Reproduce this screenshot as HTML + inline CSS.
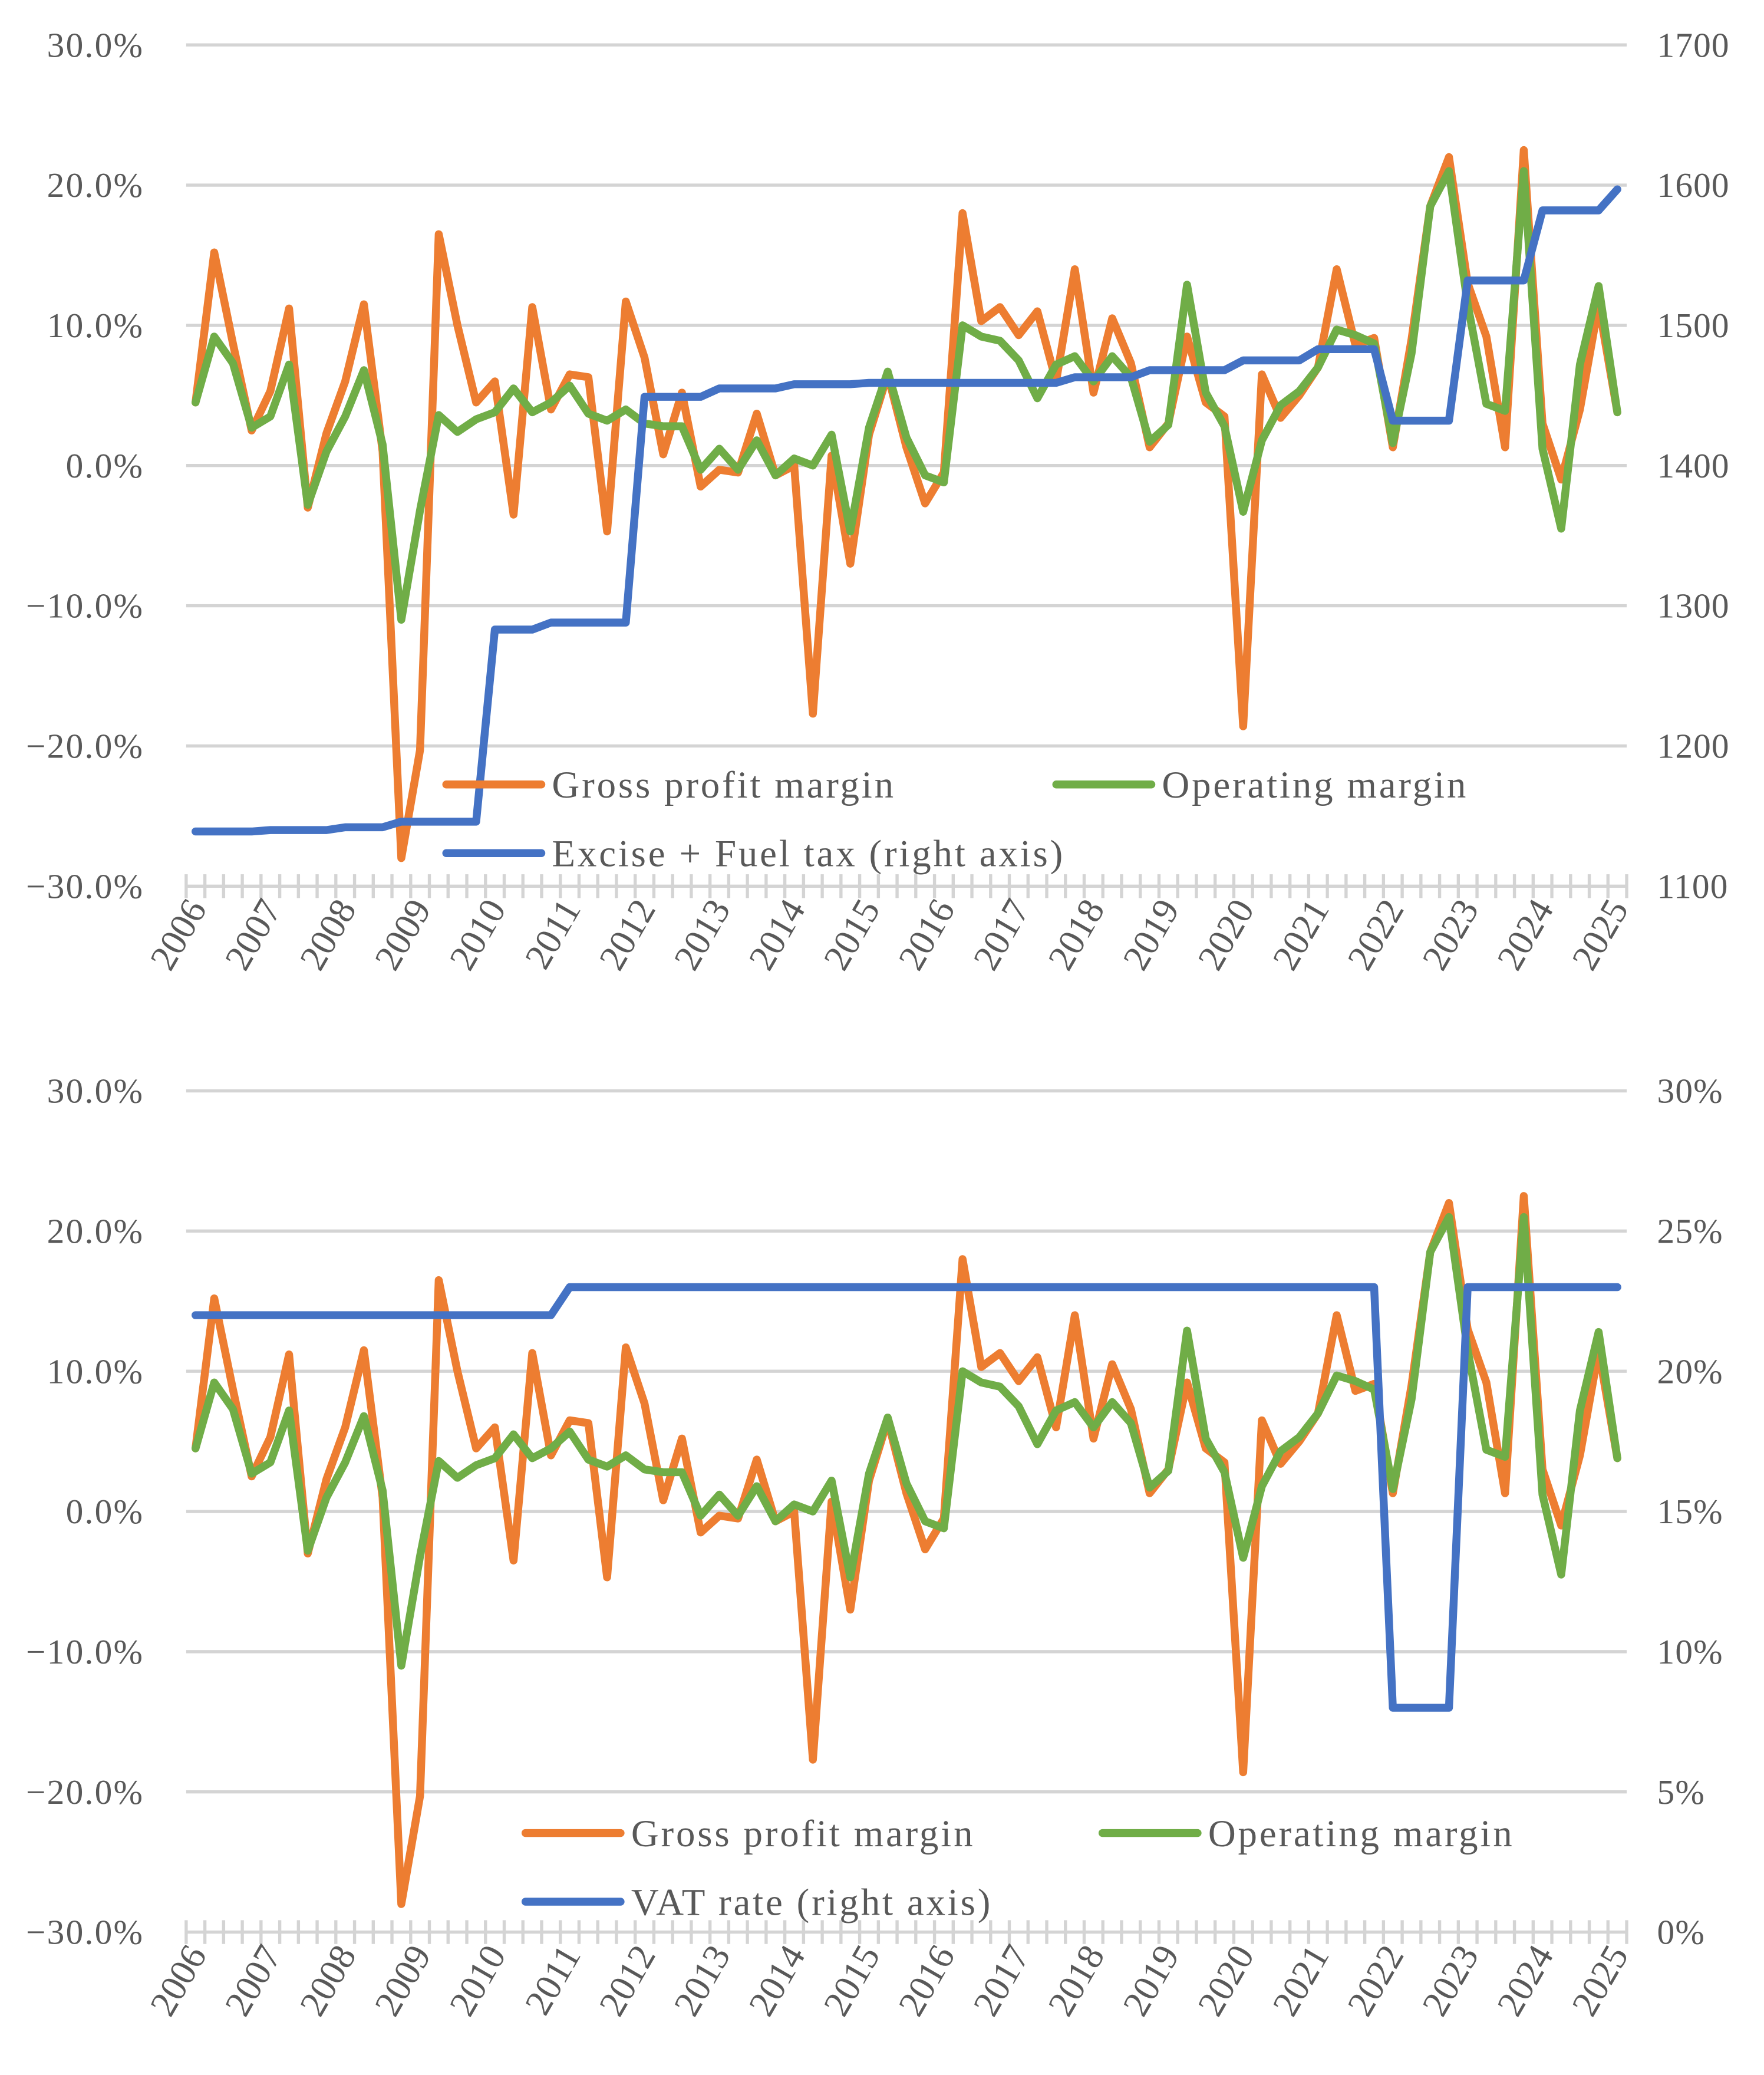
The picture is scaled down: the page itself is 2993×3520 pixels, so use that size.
<!DOCTYPE html>
<html><head><meta charset="utf-8"><style>
html,body{margin:0;padding:0;background:#fff;}
svg{display:block;}
text{font-family:"Liberation Serif",serif;fill:#595959;}
</style></head>
<body>
<svg id="s" width="2993" height="3520" viewBox="0 0 1336 1571.2" xmlns="http://www.w3.org/2000/svg"></svg>
<script>
const years=["2006","2007","2008","2009","2010","2011","2012","2013","2014","2015","2016","2017","2018","2019","2020","2021","2022","2023","2024","2025"];
const gross=[4.5,15.2,8.7,2.5,5.3,11.2,-3,2.3,6,11.5,1,-28,-20.3,16.5,10,4.5,6,-3.5,11.3,4,6.5,6.3,-4.7,11.7,7.7,0.8,5.2,-1.5,-0.3,-0.5,3.7,-0.7,0,-17.7,0.7,-7,2.2,6.5,1.3,-2.7,-0.5,18,10.3,11.3,9.3,11,6,14,5.2,10.5,7.3,1.3,3,9.2,4.5,3.5,-18.6,6.5,3.4,5,7,14,8.6,9.1,1.3,9,18.5,22,13,9.2,1.3,22.5,3,-1,4,11.5,3.8];
const oper=[4.5,9.2,7.3,2.7,3.5,7.2,-2.8,1,3.5,6.8,1.5,-11,-3.2,3.6,2.4,3.3,3.8,5.5,3.8,4.5,5.7,3.7,3.2,4,3,2.8,2.8,-0.3,1.2,-0.3,1.8,-0.7,0.5,0,2.2,-4.7,2.7,6.7,2,-0.7,-1.2,10,9.2,8.9,7.5,4.8,7.2,7.8,6,7.8,6.3,1.7,2.9,12.9,5.2,2.8,-3.3,1.8,4.3,5.3,7,9.7,9.3,8.7,1.6,8,18.5,21,11.5,4.4,3.9,21,1.2,-4.5,7.2,12.8,3.8];
const excise=[1139,1139,1139,1139,1140,1140,1140,1140,1142,1142,1142,1146,1146,1146,1146,1146,1283,1283,1283,1288,1288,1288,1288,1288,1449,1449,1449,1449,1455,1455,1455,1455,1458,1458,1458,1458,1459,1459,1459,1459,1459,1459,1459,1459,1459,1459,1459,1463,1463,1463,1463,1468,1468,1468,1468,1468,1475,1475,1475,1475,1483,1483,1483,1483,1432,1432,1432,1432,1532,1532,1532,1532,1582,1582,1582,1582,1597];
const vat=[22,22,22,22,22,22,22,22,22,22,22,22,22,22,22,22,22,22,22,22,23,23,23,23,23,23,23,23,23,23,23,23,23,23,23,23,23,23,23,23,23,23,23,23,23,23,23,23,23,23,23,23,23,23,23,23,23,23,23,23,23,23,23,23,8,8,8,8,23,23,23,23,23,23,23,23,23];
const leftTicks=["30.0%","20.0%","10.0%","0.0%","−10.0%","−20.0%","−30.0%"];
const rightTicks1=["1700","1600","1500","1400","1300","1200","1100"];
const rightTicks2=["30%","25%","20%","15%","10%","5%","0%"];

const svg=document.getElementById('s');
const NS="http://www.w3.org/2000/svg";
function mk(tag,attrs,parent){const e=document.createElementNS(NS,tag);for(const k in attrs)e.setAttribute(k,attrs[k]);(parent||svg).appendChild(e);return e;}
const X0=141,X1=1232,N=gross.length;
const step=(X1-X0)/N;
function xs(i){return X0+step*(i+0.5);}

function chart(top,rightTicks,rMin,rMax,rSeries,rName,legendX,legendY,legendRightX,idx){
  const bottom=top+637;
  const g=mk('g',{});
  
  
  const yl=v=>bottom-(v+30)/60*(bottom-top);
  const yr=v=>bottom-(v-rMin)/(rMax-rMin)*(bottom-top);
  for(let k=0;k<7;k++){
    const y=top+k*(bottom-top)/6;
    const l=mk('line',{x1:X0,x2:X1,y1:y,y2:y,stroke:'#d4d4d4','stroke-width':2.4},g);
    
    
    const t=mk('text',{x:109,y:y+9,'text-anchor':'end','font-size':26.5,'letter-spacing':1},g);t.textContent=leftTicks[k];
    
    
    const t2=mk('text',{x:1255,y:y+9,'font-size':26.5,'letter-spacing':0.5},g);t2.textContent=rightTicks[k];
    
    
  }
  for(let i=0;i<=N;i++){
    const x=X0+step*i;
    const tk=mk('line',{x1:x,x2:x,y1:bottom-9,y2:bottom+9,stroke:'#d4d4d4','stroke-width':2.4},g);
    
    
  }
  years.forEach((yr_,j)=>{
    const x=xs(j*4)+9, y=bottom+17;
    const t=mk('text',{x:x,y:y,'text-anchor':'end','font-size':28,transform:`rotate(-60 ${x} ${y})`},g);
    t.textContent=yr_;
    
    
  });
  function line(vals,f,color,name){
    const p=vals.map((v,i)=>(i?'L':'M')+xs(i).toFixed(2)+','+f(v).toFixed(2)).join('');
    const e=mk('path',{d:p,fill:'none',stroke:color,'stroke-width':6,'stroke-linejoin':'round','stroke-linecap':'round'},g);
    
    
  }
  line(gross,yl,'#ED7D31','gross-profit-margin-line');
  line(oper,yl,'#70AD47','operating-margin-line');
  line(rSeries,yr,'#4472C4',idx==1?'excise-fuel-tax-line':'vat-rate-line');
  function leg(x,y,color,label){
    const lg=mk('g',{},g);
    
    
    mk('line',{x1:x,x2:x+72,y1:y,y2:y,stroke:color,'stroke-width':6,'stroke-linecap':'round'},lg);
    const t=mk('text',{x:x+80,y:y+10,'font-size':29,'letter-spacing':1.7},lg);t.textContent=label;
  }
  leg(legendX,legendY,'#ED7D31','Gross profit margin');
  leg(legendRightX,legendY,'#70AD47','Operating margin');
  leg(legendX,legendY+52,'#4472C4',rName);
}
chart(34,rightTicks1,1100,1700,excise,'Excise + Fuel tax (right axis)',338,594,800,1);
chart(826,rightTicks2,0,30,vat,'VAT rate (right axis)',398,1388,835,2);
</script>
</body></html>
